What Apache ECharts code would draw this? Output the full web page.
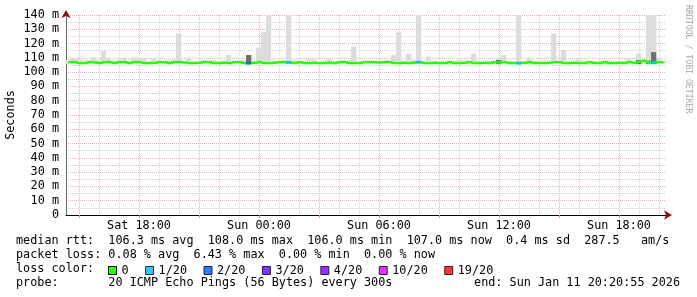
<!DOCTYPE html>
<html><head><meta charset="utf-8">
<script src="https://cdn.jsdelivr.net/npm/echarts@6/dist/echarts.min.js"></script>
<style>html,body{margin:0;padding:0;background:#fff}#c{width:697px;height:297px}</style>
</head><body><div id="c"></div>
<script>
// ---- data (hours since Sat 00:00, 15-minute bins) ----
const startHour = 14.35;
const endHour = 44.35;
const binHours = 0.25;

const median = [
 107.0,107.0,106.3,106.3,107.0,106.8,106.3,107.0,107.0,106.3,
 107.0,107.0,106.3,107.0,107.0,106.3,106.3,106.5,107.0,107.0,
 106.3,107.0,107.0,106.8,106.3,106.3,106.5,107.0,107.0,106.3,
 106.3,106.5,106.3,107.0,107.0,106.3,106.3,106.5,107.0,106.3,
 106.3,106.5,107.0,107.0,106.8,106.3,107.0,106.3,106.3,106.5,
 106.3,106.3,106.8,106.3,107.0,107.0,106.3,106.3,106.3,107.0,
 107.0,107.0,106.8,107.0,107.0,106.3,106.3,106.5,106.3,106.8,
 107.0,106.3,106.3,106.5,106.3,106.3,107.0,106.3,106.3,106.5,
 107.0,106.3,106.3,106.5,106.3,107.0,106.8,107.0,106.3,106.3,
 106.3,106.5,107.0,106.3,106.3,106.3,106.5,107.0,107.0,106.3,
 106.3,106.5,106.3,106.3,107.0,106.3,106.3,107.0,106.3,106.3,
 106.5,106.3,107.0,106.5,107.5,108.0,106.6,106.6,107.0,107.0
];
const smokeMax = [
 108.5,109.7,110.0,108.0,108.5,110.5,108.0,115.0,110.0,108.0,
 108.5,110.0,108.0,110.0,110.0,110.0,108.0,110.0,108.5,108.0,
 108.0,109.0,127.0,108.0,110.0,108.0,108.0,108.5,108.0,108.5,
 108.0,108.0,112.0,108.0,108.0,108.5,112.0,108.0,117.0,128.0,
 145.0,108.0,108.0,108.5,145.0,108.5,108.0,108.0,109.0,109.0,
 108.0,108.0,109.0,108.0,108.0,108.5,108.0,118.0,108.0,108.0,
 108.0,108.0,108.0,108.0,108.5,112.0,128.0,108.0,113.0,108.5,
 145.0,108.0,111.0,108.0,108.0,108.0,108.0,108.0,108.5,108.0,
 108.5,113.0,108.0,108.0,108.0,108.0,110.0,112.0,108.0,108.0,
 145.0,108.0,110.0,108.0,108.0,108.0,108.0,127.0,108.0,115.5,
 108.0,108.0,109.0,108.0,108.0,108.0,108.0,108.0,108.5,108.0,
 108.0,108.0,109.0,108.0,113.0,109.0,145.0,145.0,110.0,108.0
];
const smokeDark = [
 null,null,null,null,null,null,null,null,null,null,
 null,null,null,null,null,null,null,null,null,null,
 null,null,null,null,null,null,null,null,null,null,
 null,null,null,null,null,null,112.0,null,null,null,
 null,null,null,null,null,null,null,null,null,null,
 null,null,null,null,null,null,null,null,null,null,
 null,null,null,null,null,null,null,null,null,null,
 null,null,null,null,null,null,null,null,null,null,
 null,null,null,null,null,null,108.5,null,null,null,
 null,null,null,null,null,null,null,null,null,null,
 null,null,null,null,null,null,null,null,null,null,
 null,null,null,null,108.5,null,108.0,114.0,null,null
];
const lossCount = [
 0,0,0,0,0,0,0,0,0,0, 0,0,0,0,0,0,0,0,0,0,
 0,0,0,0,0,0,0,0,0,0, 0,0,0,0,0,0,2,0,0,0,
 0,0,0,0,1,0,0,0,0,0, 0,0,0,0,0,0,0,0,0,0,
 0,0,0,0,0,0,0,0,0,0, 1,0,0,0,0,0,0,0,0,0,
 0,0,0,0,0,0,0,0,0,0, 1,0,0,0,0,0,0,0,0,0,
 0,0,0,0,0,0,0,0,0,0, 0,0,0,0,0,0,0,1,0,0
];
const smokeLow = 105.6;

const yMin = 0, yMax = 140, yStep = 10;
const xLabelHours = [18, 24, 30, 36, 42];
const lossLevels = ['0', '1/20', '2/20', '3/20', '4/20', '10/20', '19/20'];
const lossThresholds = [0, 1, 2, 3, 4, 10, 19];
const lossColors = ['#26ff00', '#00b8ff', '#0059ff', '#5e00ff', '#7e00ff', '#dd00ff', '#ff0000'];

const statLines = [
 'median rtt:  106.3 ms avg  108.0 ms max  106.0 ms min  107.0 ms now  0.4 ms sd  287.5   am/s',
 'packet loss: 0.08 % avg  6.43 % max  0.00 % min  0.00 % now',
 'loss color:',
 'probe:       20 ICMP Echo Pings (56 Bytes) every 300s'
];
const endText = 'end: Sun Jan 11 20:20:55 2026';
const sideText = 'RRDTOOL / TOBI OETIKER';
const yName = 'Seconds';

// ---- build ----
const MONO = 'DejaVu Sans Mono';
const FS = 11.8;
const xs = median.map((_, i) => startHour + (i + 0.5) * binHours);
const hourTicks = [], hour3Ticks = [];
for (let h = Math.ceil(startHour); h <= Math.floor(endHour); h++) {
  if (h % 3 === 0) hour3Ticks.push(h); else hourTicks.push(h);
}
const yMinor = [];
for (let v = yMin + yStep / 2; v < yMax; v += yStep) yMinor.push(v);

function levelOf(n) {
  let k = 0;
  for (let j = 0; j < lossThresholds.length; j++) if (n >= lossThresholds[j]) k = j;
  return k;
}
function fmtHour(h) {
  const day = h < 24 ? 'Sat' : 'Sun';
  const hh = String(h % 24).padStart(2, '0');
  return day + ' ' + hh + ':00';
}

const chart = echarts.init(document.getElementById('c'), null, {renderer: 'canvas'});
const gridLine = (color) => ({show: true, lineStyle: {color: color, width: 1, type: [1, 1]}});
const baseX = {type: 'value', min: startHour, max: endHour, gridIndex: 0, position: 'bottom'};
const baseY = {type: 'value', min: yMin, max: yMax, gridIndex: 0, position: 'left'};

function bandRender(fill) {
  return function (params, api) {
    const x = api.value(0), lo = api.value(1), hi = api.value(2);
    if (isNaN(hi)) return null;
    const p1 = api.coord([x - binHours / 2, lo]);
    const p2 = api.coord([x + binHours / 2, hi]);
    const cs = params.coordSys;
    const shape = echarts.graphic.clipRectByRect(
      {x: p1[0], y: p2[1], width: p2[0] - p1[0] + 0.3, height: p1[1] - p2[1]},
      {x: cs.x, y: cs.y, width: cs.width, height: cs.height});
    return shape && {type: 'rect', shape: shape, style: {fill: fill}};
  };
}

const series = [
  {type: 'custom', name: 'smoke', xAxisIndex: 0, yAxisIndex: 0, silent: true, z: 2,
   renderItem: bandRender('#dcdcdc'), encode: {x: 0, y: [1, 2]},
   data: xs.map((x, i) => [x, smokeLow, smokeMax[i]])},
  {type: 'custom', name: 'smokeDark', xAxisIndex: 0, yAxisIndex: 0, silent: true, z: 3,
   renderItem: bandRender('#707070'), encode: {x: 0, y: [1, 2]},
   data: xs.map((x, i) => [x, smokeLow, smokeDark[i] == null ? '-' : smokeDark[i]])},
  {type: 'line', name: lossLevels[0], xAxisIndex: 0, yAxisIndex: 0,
   step: 'middle', symbol: 'none', silent: true, z: 5,
   lineStyle: {color: lossColors[0], width: 2.4}, itemStyle: {color: lossColors[0]},
   data: xs.map((x, i) => [x, median[i]])}
];
for (let k = 1; k < lossLevels.length; k++) {
  series.push({
    type: 'scatter', name: lossLevels[k], xAxisIndex: 0, yAxisIndex: 0,
    symbol: 'rect', symbolSize: [5.2, 2.6], silent: true, z: 6,
    itemStyle: {color: lossColors[k]},
    data: xs.map((x, i) => [x, median[i], lossCount[i]]).filter(d => d[2] > 0 && levelOf(d[2]) === k)
  });
}

const graphic = [];
statLines.forEach((t, i) => graphic.push({
  type: 'text', left: 16, top: 235 + i * 13.9,
  style: {text: t, font: FS + 'px "' + MONO + '"', fill: '#000'}
}));
graphic.push({type: 'text', right: 17, top: 235 + 3 * 13.9,
  style: {text: endText, font: FS + 'px "' + MONO + '"', fill: '#000'}});
graphic.push({type: 'text', x: 684, y: 5, rotation: -Math.PI / 2,
  style: {text: sideText, font: '8.2px "' + MONO + '"', fill: '#a8a8a8', align: 'left', verticalAlign: 'bottom'}});

chart.setOption({
  animation: false,
  backgroundColor: '#ffffff',
  grid: {left: 66, top: 15, width: 600, height: 200, containLabel: false, outerBoundsMode: 'none'},
  legend: {
    left: 108, top: 264.5, padding: 0, itemWidth: 8, itemHeight: 8, itemGap: 16.5,
    selectedMode: false,
    textStyle: {fontFamily: MONO, fontSize: FS, color: '#000', padding: [0, 0, 0, 0]},
    data: lossLevels.map((n, k) => ({name: n, icon: 'rect',
      itemStyle: {color: lossColors[k], borderColor: '#000', borderWidth: 1}}))
  },
  xAxis: [
    Object.assign({}, baseX, {
      axisLine: {show: true, onZero: false, lineStyle: {color: '#000', width: 1}},
      axisTick: {show: false, customValues: xLabelHours},
      axisLabel: {customValues: xLabelHours, formatter: v => fmtHour(v), margin: 5,
        color: '#000', fontFamily: MONO, fontSize: FS},
      splitLine: {show: false}}),
    Object.assign({}, baseX, {
      axisLine: {show: false}, axisLabel: {show: false},
      axisTick: {show: false, customValues: hourTicks},
      splitLine: gridLine('#d2d2d2')}),
    Object.assign({}, baseX, {
      axisLine: {show: false}, axisLabel: {show: false},
      axisTick: {show: true, customValues: hour3Ticks, length: 3, inside: false,
        lineStyle: {color: '#e08a8a'}},
      splitLine: gridLine('#e8b0b0')}),
    Object.assign({}, baseX, {
      axisLabel: {show: false}, axisTick: {show: false}, splitLine: {show: false},
      axisLine: {show: true, onZero: false, symbol: ['none', 'arrow'], symbolSize: [7, 8],
        symbolOffset: [0, 6], lineStyle: {color: '#8b1010', width: 0}}})
  ],
  yAxis: [
    Object.assign({}, baseY, {
      interval: yStep, name: yName, nameLocation: 'middle', nameGap: 49,
      nameMoveOverlap: false,
      nameTextStyle: {fontFamily: MONO, fontSize: FS, color: '#000'},
      axisLine: {show: true, onZero: false, lineStyle: {color: '#666', width: 1}},
      axisTick: {show: false},
      axisLabel: {formatter: v => v === 0 ? '0' : v + ' m', margin: 7, color: '#000',
        fontFamily: MONO, fontSize: FS},
      splitLine: gridLine('#e8b0b0')}),
    Object.assign({}, baseY, {
      axisLine: {show: false}, axisLabel: {show: false},
      axisTick: {show: false, customValues: yMinor},
      splitLine: gridLine('#d2d2d2')}),
    Object.assign({}, baseY, {
      axisLabel: {show: false}, axisTick: {show: false}, splitLine: {show: false},
      axisLine: {show: true, onZero: false, symbol: ['none', 'arrow'], symbolSize: [7, 8],
        symbolOffset: [0, 5], lineStyle: {color: '#8b1010', width: 0}}})
  ],
  series: series,
  graphic: graphic
});
</script></body></html>
